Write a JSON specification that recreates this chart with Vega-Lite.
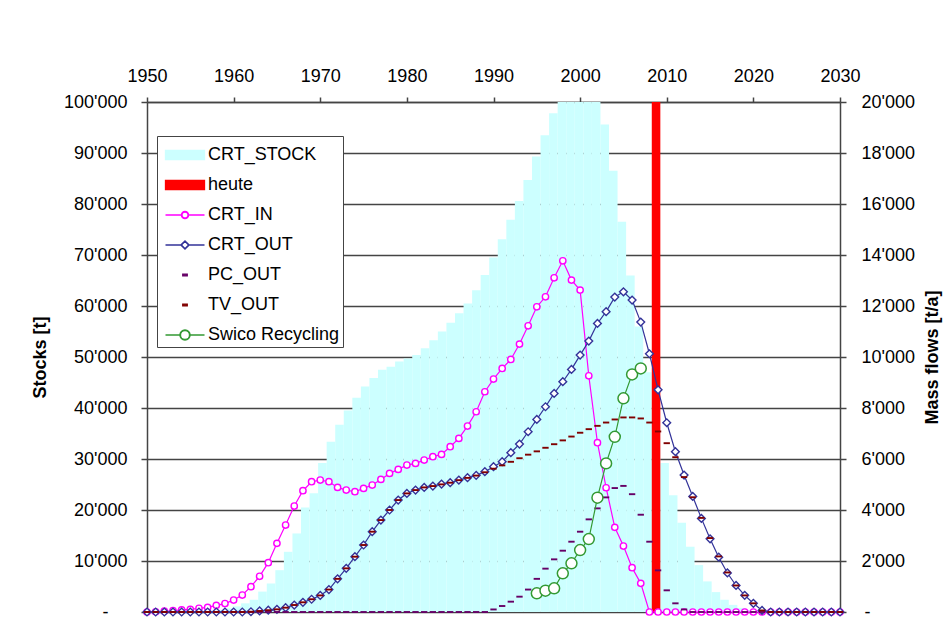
{
  "$schema": "https://vega.github.io/schema/vega-lite/v6.json",
  "width": 693,
  "height": 510,
  "autosize": {"type": "none"},
  "padding": {"left": 147, "top": 102, "right": 103, "bottom": 24},
  "background": "#ffffff",
  "config": {
    "font": "Liberation Sans",
    "view": {"stroke": null},
    "axis": {
      "labelFont": "Liberation Sans", "labelFontSize": 18, "labelColor": "#000000",
      "titleFont": "Liberation Sans", "titleFontSize": 18, "titleFontWeight": "bold", "titleColor": "#000000",
      "domainColor": "#444444", "domainWidth": 1.5, "tickColor": "#444444", "tickWidth": 1.5, "tickSize": 6,
      "gridColor": "#444444", "gridWidth": 1.5, "gridOpacity": 1, "labelFlush": false
    }
  },
  "datasets": {
    "bars": [
      {"year":1950,"series":"CRT_STOCK","value":0},{"year":1951,"series":"CRT_STOCK","value":0},{"year":1952,"series":"CRT_STOCK","value":0},{"year":1953,"series":"CRT_STOCK","value":0},{"year":1954,"series":"CRT_STOCK","value":0},{"year":1955,"series":"CRT_STOCK","value":0},{"year":1956,"series":"CRT_STOCK","value":100},{"year":1957,"series":"CRT_STOCK","value":200},{"year":1958,"series":"CRT_STOCK","value":400},{"year":1959,"series":"CRT_STOCK","value":700},
      {"year":1960,"series":"CRT_STOCK","value":1100},{"year":1961,"series":"CRT_STOCK","value":1700},{"year":1962,"series":"CRT_STOCK","value":2400},{"year":1963,"series":"CRT_STOCK","value":4000},{"year":1964,"series":"CRT_STOCK","value":5600},{"year":1965,"series":"CRT_STOCK","value":8200},{"year":1966,"series":"CRT_STOCK","value":11800},{"year":1967,"series":"CRT_STOCK","value":15400},{"year":1968,"series":"CRT_STOCK","value":20500},{"year":1969,"series":"CRT_STOCK","value":23300},
      {"year":1970,"series":"CRT_STOCK","value":29200},{"year":1971,"series":"CRT_STOCK","value":33400},{"year":1972,"series":"CRT_STOCK","value":36700},{"year":1973,"series":"CRT_STOCK","value":39500},{"year":1974,"series":"CRT_STOCK","value":42000},{"year":1975,"series":"CRT_STOCK","value":44200},{"year":1976,"series":"CRT_STOCK","value":45900},{"year":1977,"series":"CRT_STOCK","value":47500},{"year":1978,"series":"CRT_STOCK","value":48100},{"year":1979,"series":"CRT_STOCK","value":49100},
      {"year":1980,"series":"CRT_STOCK","value":49700},{"year":1981,"series":"CRT_STOCK","value":50400},{"year":1982,"series":"CRT_STOCK","value":51700},{"year":1983,"series":"CRT_STOCK","value":53300},{"year":1984,"series":"CRT_STOCK","value":55000},{"year":1985,"series":"CRT_STOCK","value":56700},{"year":1986,"series":"CRT_STOCK","value":58600},{"year":1987,"series":"CRT_STOCK","value":60500},{"year":1988,"series":"CRT_STOCK","value":63100},{"year":1989,"series":"CRT_STOCK","value":66100},
      {"year":1990,"series":"CRT_STOCK","value":69500},{"year":1991,"series":"CRT_STOCK","value":73100},{"year":1992,"series":"CRT_STOCK","value":76900},{"year":1993,"series":"CRT_STOCK","value":80600},{"year":1994,"series":"CRT_STOCK","value":84700},{"year":1995,"series":"CRT_STOCK","value":89300},{"year":1996,"series":"CRT_STOCK","value":93500},{"year":1997,"series":"CRT_STOCK","value":97800},{"year":1998,"series":"CRT_STOCK","value":100000},{"year":1999,"series":"CRT_STOCK","value":100000},
      {"year":2000,"series":"CRT_STOCK","value":100000},{"year":2001,"series":"CRT_STOCK","value":100000},{"year":2002,"series":"CRT_STOCK","value":100000},{"year":2003,"series":"CRT_STOCK","value":95600},{"year":2004,"series":"CRT_STOCK","value":86500},{"year":2005,"series":"CRT_STOCK","value":76500},{"year":2006,"series":"CRT_STOCK","value":66000},{"year":2007,"series":"CRT_STOCK","value":56000},{"year":2008,"series":"CRT_STOCK","value":47000},{"year":2009,"series":"CRT_STOCK","value":38000},
      {"year":2010,"series":"CRT_STOCK","value":29200},{"year":2011,"series":"CRT_STOCK","value":22900},{"year":2012,"series":"CRT_STOCK","value":17500},{"year":2013,"series":"CRT_STOCK","value":12800},{"year":2014,"series":"CRT_STOCK","value":9200},{"year":2015,"series":"CRT_STOCK","value":6000},{"year":2016,"series":"CRT_STOCK","value":3900},{"year":2017,"series":"CRT_STOCK","value":2400},{"year":2018,"series":"CRT_STOCK","value":1400},{"year":2019,"series":"CRT_STOCK","value":800},
      {"year":2020,"series":"CRT_STOCK","value":400},{"year":2021,"series":"CRT_STOCK","value":200},{"year":2022,"series":"CRT_STOCK","value":100},{"year":2023,"series":"CRT_STOCK","value":0},{"year":2024,"series":"CRT_STOCK","value":0},{"year":2025,"series":"CRT_STOCK","value":0},{"year":2026,"series":"CRT_STOCK","value":0},{"year":2027,"series":"CRT_STOCK","value":0},{"year":2028,"series":"CRT_STOCK","value":0},{"year":2029,"series":"CRT_STOCK","value":0},
      {"year":2030,"series":"CRT_STOCK","value":0},
      {"year":2009,"series":"heute","value":100000}
    ],
    "crt_in": [
      {"year":1950,"value":0},{"year":1951,"value":10},{"year":1952,"value":30},{"year":1953,"value":50},{"year":1954,"value":80},{"year":1955,"value":104},{"year":1956,"value":144},{"year":1957,"value":180},{"year":1958,"value":260},{"year":1959,"value":330},
      {"year":1960,"value":470},{"year":1961,"value":666},{"year":1962,"value":993},{"year":1963,"value":1400},{"year":1964,"value":1934},{"year":1965,"value":2692},{"year":1966,"value":3411},{"year":1967,"value":4156},{"year":1968,"value":4756},{"year":1969,"value":5109},
      {"year":1970,"value":5174},{"year":1971,"value":5109},{"year":1972,"value":4887},{"year":1973,"value":4782},{"year":1974,"value":4717},{"year":1975,"value":4847},{"year":1976,"value":4978},{"year":1977,"value":5200},{"year":1978,"value":5435},{"year":1979,"value":5592},
      {"year":1980,"value":5762},{"year":1981,"value":5827},{"year":1982,"value":5958},{"year":1983,"value":6089},{"year":1984,"value":6180},{"year":1985,"value":6481},{"year":1986,"value":6808},{"year":1987,"value":7291},{"year":1988,"value":7853},{"year":1989,"value":8637},
      {"year":1990,"value":9134},{"year":1991,"value":9552},{"year":1992,"value":9905},{"year":1993,"value":10506},{"year":1994,"value":11224},{"year":1995,"value":11969},{"year":1996,"value":12361},{"year":1997,"value":13106},{"year":1998,"value":13773},{"year":1999,"value":13015},
      {"year":2000,"value":12623},{"year":2001,"value":9264},{"year":2002,"value":6638},{"year":2003,"value":4873},{"year":2004,"value":3319},{"year":2005,"value":2587},{"year":2006,"value":1738},{"year":2007,"value":1124},{"year":2008,"value":0},{"year":2009,"value":0},
      {"year":2010,"value":0},{"year":2011,"value":0},{"year":2012,"value":0},{"year":2013,"value":0},{"year":2014,"value":0},{"year":2015,"value":0},{"year":2016,"value":0},{"year":2017,"value":0},{"year":2018,"value":0},{"year":2019,"value":0},
      {"year":2020,"value":0},{"year":2021,"value":0},{"year":2022,"value":0},{"year":2023,"value":0},{"year":2024,"value":0},{"year":2025,"value":0},{"year":2026,"value":0},{"year":2027,"value":0},{"year":2028,"value":0},{"year":2029,"value":0},
      {"year":2030,"value":0}
    ],
    "crt_out": [
      {"year":1950,"value":0},{"year":1951,"value":0},{"year":1952,"value":0},{"year":1953,"value":0},{"year":1954,"value":0},{"year":1955,"value":0},{"year":1956,"value":0},{"year":1957,"value":0},{"year":1958,"value":0},{"year":1959,"value":0},
      {"year":1960,"value":0},{"year":1961,"value":0},{"year":1962,"value":10},{"year":1963,"value":40},{"year":1964,"value":70},{"year":1965,"value":105},{"year":1966,"value":170},{"year":1967,"value":274},{"year":1968,"value":380},{"year":1969,"value":500},
      {"year":1970,"value":650},{"year":1971,"value":880},{"year":1972,"value":1300},{"year":1973,"value":1712},{"year":1974,"value":2169},{"year":1975,"value":2627},{"year":1976,"value":3149},{"year":1977,"value":3606},{"year":1978,"value":4000},{"year":1979,"value":4390},
      {"year":1980,"value":4651},{"year":1981,"value":4782},{"year":1982,"value":4886},{"year":1983,"value":4939},{"year":1984,"value":5018},{"year":1985,"value":5070},{"year":1986,"value":5174},{"year":1987,"value":5266},{"year":1988,"value":5358},{"year":1989,"value":5502},
      {"year":1990,"value":5697},{"year":1991,"value":5893},{"year":1992,"value":6246},{"year":1993,"value":6586},{"year":1994,"value":7069},{"year":1995,"value":7553},{"year":1996,"value":8049},{"year":1997,"value":8572},{"year":1998,"value":9030},{"year":1999,"value":9513},
      {"year":2000,"value":10075},{"year":2001,"value":10623},{"year":2002,"value":11316},{"year":2003,"value":11779},{"year":2004,"value":12349},{"year":2005,"value":12558},{"year":2006,"value":12231},{"year":2007,"value":11368},{"year":2008,"value":10127},{"year":2009,"value":8715},
      {"year":2010,"value":7422},{"year":2011,"value":6285},{"year":2012,"value":5370},{"year":2013,"value":4530},{"year":2014,"value":3671},{"year":2015,"value":2870},{"year":2016,"value":2150},{"year":2017,"value":1530},{"year":2018,"value":1040},{"year":2019,"value":655},
      {"year":2020,"value":340},{"year":2021,"value":60},{"year":2022,"value":0},{"year":2023,"value":0},{"year":2024,"value":0},{"year":2025,"value":0},{"year":2026,"value":0},{"year":2027,"value":0},{"year":2028,"value":0},{"year":2029,"value":0},
      {"year":2030,"value":0}
    ],
    "pc_out": [
      {"year":1950,"value":0},{"year":1951,"value":0},{"year":1952,"value":0},{"year":1953,"value":0},{"year":1954,"value":0},{"year":1955,"value":0},{"year":1956,"value":0},{"year":1957,"value":0},{"year":1958,"value":0},{"year":1959,"value":0},
      {"year":1960,"value":0},{"year":1961,"value":0},{"year":1962,"value":0},{"year":1963,"value":0},{"year":1964,"value":0},{"year":1965,"value":0},{"year":1966,"value":0},{"year":1967,"value":0},{"year":1968,"value":0},{"year":1969,"value":0},
      {"year":1970,"value":0},{"year":1971,"value":0},{"year":1972,"value":0},{"year":1973,"value":0},{"year":1974,"value":0},{"year":1975,"value":0},{"year":1976,"value":0},{"year":1977,"value":0},{"year":1978,"value":0},{"year":1979,"value":0},
      {"year":1980,"value":0},{"year":1981,"value":0},{"year":1982,"value":0},{"year":1983,"value":0},{"year":1984,"value":0},{"year":1985,"value":0},{"year":1986,"value":0},{"year":1987,"value":0},{"year":1988,"value":0},{"year":1989,"value":0},
      {"year":1990,"value":100},{"year":1991,"value":235},{"year":1992,"value":405},{"year":1993,"value":601},{"year":1994,"value":880},{"year":1995,"value":1300},{"year":1996,"value":1700},{"year":1997,"value":2065},{"year":1998,"value":2404},{"year":1999,"value":2757},
      {"year":2000,"value":3149},{"year":2001,"value":3633},{"year":2002,"value":4064},{"year":2003,"value":4495},{"year":2004,"value":4860},{"year":2005,"value":4945},{"year":2006,"value":4620},{"year":2007,"value":3815},{"year":2008,"value":2757},{"year":2009,"value":1633},
      {"year":2010,"value":850},{"year":2011,"value":340},{"year":2012,"value":100},{"year":2013,"value":0},{"year":2014,"value":0},{"year":2015,"value":0},{"year":2016,"value":0},{"year":2017,"value":0},{"year":2018,"value":0},{"year":2019,"value":0},
      {"year":2020,"value":0},{"year":2021,"value":0},{"year":2022,"value":0},{"year":2023,"value":0},{"year":2024,"value":0},{"year":2025,"value":0},{"year":2026,"value":0},{"year":2027,"value":0},{"year":2028,"value":0},{"year":2029,"value":0},
      {"year":2030,"value":0}
    ],
    "tv_out": [
      {"year":1950,"value":0},{"year":1951,"value":0},{"year":1952,"value":0},{"year":1953,"value":0},{"year":1954,"value":0},{"year":1955,"value":0},{"year":1956,"value":0},{"year":1957,"value":0},{"year":1958,"value":0},{"year":1959,"value":0},
      {"year":1960,"value":0},{"year":1961,"value":0},{"year":1962,"value":10},{"year":1963,"value":40},{"year":1964,"value":70},{"year":1965,"value":105},{"year":1966,"value":170},{"year":1967,"value":274},{"year":1968,"value":380},{"year":1969,"value":500},
      {"year":1970,"value":650},{"year":1971,"value":880},{"year":1972,"value":1300},{"year":1973,"value":1712},{"year":1974,"value":2169},{"year":1975,"value":2627},{"year":1976,"value":3149},{"year":1977,"value":3606},{"year":1978,"value":4000},{"year":1979,"value":4390},
      {"year":1980,"value":4651},{"year":1981,"value":4782},{"year":1982,"value":4886},{"year":1983,"value":4939},{"year":1984,"value":5005},{"year":1985,"value":5070},{"year":1986,"value":5170},{"year":1987,"value":5260},{"year":1988,"value":5350},{"year":1989,"value":5480},
      {"year":1990,"value":5620},{"year":1991,"value":5750},{"year":1992,"value":5890},{"year":1993,"value":6030},{"year":1994,"value":6170},{"year":1995,"value":6300},{"year":1996,"value":6440},{"year":1997,"value":6580},{"year":1998,"value":6730},{"year":1999,"value":6880},
      {"year":2000,"value":7030},{"year":2001,"value":7170},{"year":2002,"value":7300},{"year":2003,"value":7430},{"year":2004,"value":7550},{"year":2005,"value":7630},{"year":2006,"value":7630},{"year":2007,"value":7590},{"year":2008,"value":7430},{"year":2009,"value":7080},
      {"year":2010,"value":6620},{"year":2011,"value":6070},{"year":2012,"value":5290},{"year":2013,"value":4500},{"year":2014,"value":3690},{"year":2015,"value":2900},{"year":2016,"value":2180},{"year":2017,"value":1550},{"year":2018,"value":1040},{"year":2019,"value":650},
      {"year":2020,"value":340},{"year":2021,"value":60},{"year":2022,"value":0},{"year":2023,"value":0},{"year":2024,"value":0},{"year":2025,"value":0},{"year":2026,"value":0},{"year":2027,"value":0},{"year":2028,"value":0},{"year":2029,"value":0},
      {"year":2030,"value":0}
    ],
    "swico": [
      {"year":1995,"value":732},{"year":1996,"value":836},{"year":1997,"value":928},{"year":1998,"value":1516},{"year":1999,"value":1908},{"year":2000,"value":2430},{"year":2001,"value":2861},{"year":2002,"value":4482},{"year":2003,"value":5828},{"year":2004,"value":6870},{"year":2005,"value":8380},{"year":2006,"value":9317},{"year":2007,"value":9552}
    ]
  },
  "layer": [
    {
      "data": {"name": "bars"},
      "mark": {"type": "bar", "clip": true},
      "encoding": {
        "x": {"field": "year", "type": "ordinal", "scale": {"paddingInner": 0, "paddingOuter": 0}, "axis": null},
        "y": {
          "field": "value", "type": "quantitative", "stack": null,
          "scale": {"domain": [0, 100000], "nice": false},
          "axis": {
            "orient": "left", "title": "Stocks [t]", "grid": true,
            "values": [0, 10000, 20000, 30000, 40000, 50000, 60000, 70000, 80000, 90000, 100000],
            "labelExpr": "datum.value === 0 ? '-' : replace(format(datum.value, ','), ',', \"'\")",
            "labelPadding": {"condition": {"test": "datum.value === 0", "value": 33}, "value": 14},
            "titlePadding": 14
          }
        },
        "color": {
          "field": "series", "type": "nominal",
          "scale": {
            "domain": ["CRT_STOCK", "heute", "CRT_IN", "CRT_OUT", "PC_OUT", "TV_OUT", "Swico Recycling"],
            "range": ["#ccffff", "#ff0000", "#ff00ff", "#333399", "#660066", "#800000", "#339933"]
          },
          "legend": {
            "orient": "none", "legendX": 10, "legendY": 34, "title": null,
            "padding": 3, "strokeColor": "#444444", "fillColor": "#ffffff",
            "symbolSize": 900, "symbolOffset": 9, "labelOffset": 7, "rowPadding": 5,
            "labelFontSize": 18, "labelFont": "Liberation Sans", "labelColor": "#000000", "labelLimit": 0,
            "symbolStrokeWidth": 1.3,
            "encode": {
              "symbols": {
                "update": {
                  "shape": {"signal": "datum.value === 'CRT_IN' ? 'M-1.3,0H-0.24M0.24,0H1.3M-0.24,0A0.24,0.24 0 1,1 0.24,0A0.24,0.24 0 1,1 -0.24,0ZM-0.2,0A0.2,0.2 0 1,0 0.2,0A0.2,0.2 0 1,0 -0.2,0Z' : datum.value === 'CRT_OUT' ? 'M-1.3,0H-0.28M0.28,0H1.3M-0.28,0L0,-0.28L0.28,0L0,0.28ZM-0.24,0L0,0.24L0.24,0L0,-0.24Z' : datum.value === 'Swico Recycling' ? 'M-1.3,0H-0.34M0.34,0H1.3M-0.34,0A0.34,0.34 0 1,1 0.34,0A0.34,0.34 0 1,1 -0.34,0ZM-0.3,0A0.3,0.3 0 1,0 0.3,0A0.3,0.3 0 1,0 -0.3,0Z' : (datum.value === 'PC_OUT' || datum.value === 'TV_OUT') ? 'M-0.15,-0.06H0.15V0.06H-0.15Z' : 'M-1.3,-0.3H1.3V0.3H-1.3Z'"},
                  "stroke": {"signal": "datum.value === 'CRT_STOCK' ? '#ccffff' : datum.value === 'heute' ? '#ff0000' : datum.value === 'CRT_IN' ? '#ff00ff' : datum.value === 'CRT_OUT' ? '#333399' : datum.value === 'PC_OUT' ? '#660066' : datum.value === 'TV_OUT' ? '#800000' : '#339933'"},
                  "strokeWidth": {"value": 1.3},
                  "opacity": {"value": 1}
                }
              }
            }
          }
        }
      }
    },
    {
      "encoding": {
        "x": {
          "field": "year", "type": "quantitative",
          "scale": {"domain": [1950, 2030], "nice": false, "zero": false},
          "axis": {
            "orient": "top", "title": null, "grid": false,
            "values": [1950, 1960, 1970, 1980, 1990, 2000, 2010, 2020, 2030],
            "format": "d", "tickSize": 5, "labelPadding": 12, "labelFlush": false
          }
        },
        "y": {
          "field": "value", "type": "quantitative",
          "scale": {"domain": [0, 20000], "nice": false},
          "axis": {
            "orient": "right", "title": "Mass flows [t/a]", "grid": false, "titleAngle": 270,
            "values": [0, 2000, 4000, 6000, 8000, 10000, 12000, 14000, 16000, 18000, 20000],
            "labelExpr": "datum.value === 0 ? '-' : replace(format(datum.value, ','), ',', \"'\")",
            "labelPadding": {"condition": {"test": "datum.value === 0", "value": 18}, "value": 15},
            "titlePadding": 27
          }
        }
      },
      "layer": [
        {"data": {"name": "crt_in"}, "mark": {"type": "line", "color": "#ff00ff", "strokeWidth": 1.2}},
        {"data": {"name": "crt_in"}, "mark": {"type": "point", "shape": "circle", "size": 40, "filled": true, "fill": "#ffffff", "stroke": "#ff00ff", "strokeWidth": 1.4, "opacity": 1}},
        {"data": {"name": "crt_out"}, "mark": {"type": "line", "color": "#333399", "strokeWidth": 1.2}},
        {"data": {"name": "crt_out"}, "mark": {"type": "point", "shape": "diamond", "size": 60, "filled": true, "fill": "#ffffff", "stroke": "#333399", "strokeWidth": 1.4, "opacity": 1}},
        {"data": {"name": "pc_out"}, "mark": {"type": "point", "shape": "M-1,-0.3H1V0.3H-1Z", "size": 40, "filled": true, "color": "#660066", "opacity": 1}},
        {"data": {"name": "tv_out"}, "mark": {"type": "point", "shape": "M-1,-0.3H1V0.3H-1Z", "size": 40, "filled": true, "color": "#800000", "opacity": 1}},
        {"data": {"name": "swico"}, "mark": {"type": "line", "color": "#339933", "strokeWidth": 1.2}},
        {"data": {"name": "swico"}, "mark": {"type": "point", "shape": "circle", "size": 120, "filled": true, "fill": "#ffffff", "stroke": "#339933", "strokeWidth": 1.5, "opacity": 1}}
      ]
    }
  ],
  "resolve": {"scale": {"x": "independent", "y": "independent"}}
}
